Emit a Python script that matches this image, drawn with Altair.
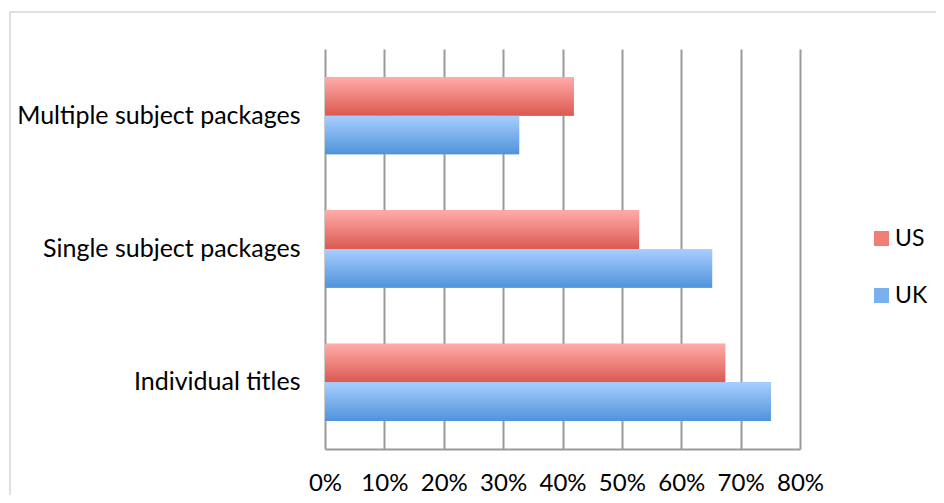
import altair as alt
import pandas as pd

categories = ["Multiple subject packages", "Single subject packages", "Individual titles"]
series = ["US", "UK"]
us_values = [0.419, 0.529, 0.674]
uk_values = [0.327, 0.652, 0.751]
tick_values = [0, 0.1, 0.2, 0.3, 0.4, 0.5, 0.6, 0.7, 0.8]

rows = []
for c, u, k in zip(categories, us_values, uk_values):
    rows.append({"category": c, "series": "US", "value": u})
    rows.append({"category": c, "series": "UK", "value": k})
df = pd.DataFrame(rows)

FONT = "Lato"
GRID = "#9a9a9a"

def grad(top, bottom):
    return alt.Gradient(
        gradient="linear", x1=0, y1=0, x2=0, y2=1,
        stops=[alt.GradientStop(offset=0, color=top),
               alt.GradientStop(offset=1, color=bottom)],
    )

grad_us = grad("#FFACA9", "#DC5950")
grad_uk = grad("#A8CEFF", "#4F93DB")

x_enc = alt.X(
    "value:Q",
    scale=alt.Scale(domain=[0, 0.8], nice=False),
    axis=alt.Axis(
        title=None, format=".0%", values=tick_values, ticks=False,
        grid=True, gridColor=GRID, gridWidth=2, gridOpacity=1,
        domain=True, domainColor=GRID, domainWidth=2,
        labelFont=FONT, labelFontSize=24, labelColor="black", labelPadding=22,
        labelOverlap=False, labelFlush=False, labelAlign="center",
    ),
)
y_enc = alt.Y(
    "category:N", sort=categories,
    scale=alt.Scale(paddingInner=0.42, paddingOuter=0.21),
    axis=alt.Axis(
        title=None, ticks=False, domain=False, grid=False, labelLimit=0,
        labelFont=FONT, labelFontSize=25, labelColor="black", labelPadding=25,
    ),
)
yoff = alt.YOffset("series:N", sort=series,
                   scale=alt.Scale(domain=series, paddingInner=0, paddingOuter=0))

frame = alt.Chart(pd.DataFrame({"a": [0]})).mark_rect(
    fillOpacity=0, stroke="#d6d6d6", strokeWidth=1.5
).encode(x=alt.value(-315), x2=alt.value(900), y=alt.value(-37), y2=alt.value(700))

base = alt.Chart(df)

solid = base.mark_bar().encode(
    x=x_enc, y=y_enc, yOffset=yoff,
    color=alt.Color("series:N", sort=series,
                    scale=alt.Scale(domain=series, range=["#EE7E77", "#7BB0EF"]),
                    legend=alt.Legend(title=None)),
)
us_layer = base.transform_filter(alt.datum.series == "US").mark_bar(color=grad_us).encode(
    x=x_enc, y=y_enc, yOffset=yoff)
uk_layer = base.transform_filter(alt.datum.series == "UK").mark_bar(color=grad_uk).encode(
    x=x_enc, y=y_enc, yOffset=yoff)

chart = alt.layer(frame, solid, us_layer, uk_layer).properties(
    width=475, height=400,
    autosize=alt.AutoSizeParams(type="none"),
    padding={"left": 317, "top": 41, "right": 136, "bottom": 46},
).configure_view(strokeWidth=0).configure_legend(
    orient="none", legendX=545, legendY=178, symbolType="square", symbolSize=225,
    symbolStrokeWidth=0, labelFont=FONT, labelFontSize=23, labelColor="black",
    rowPadding=33, labelOffset=2, padding=0,
)

chart.save("out.html", embed_options={"renderer": "svg", "actions": False})
